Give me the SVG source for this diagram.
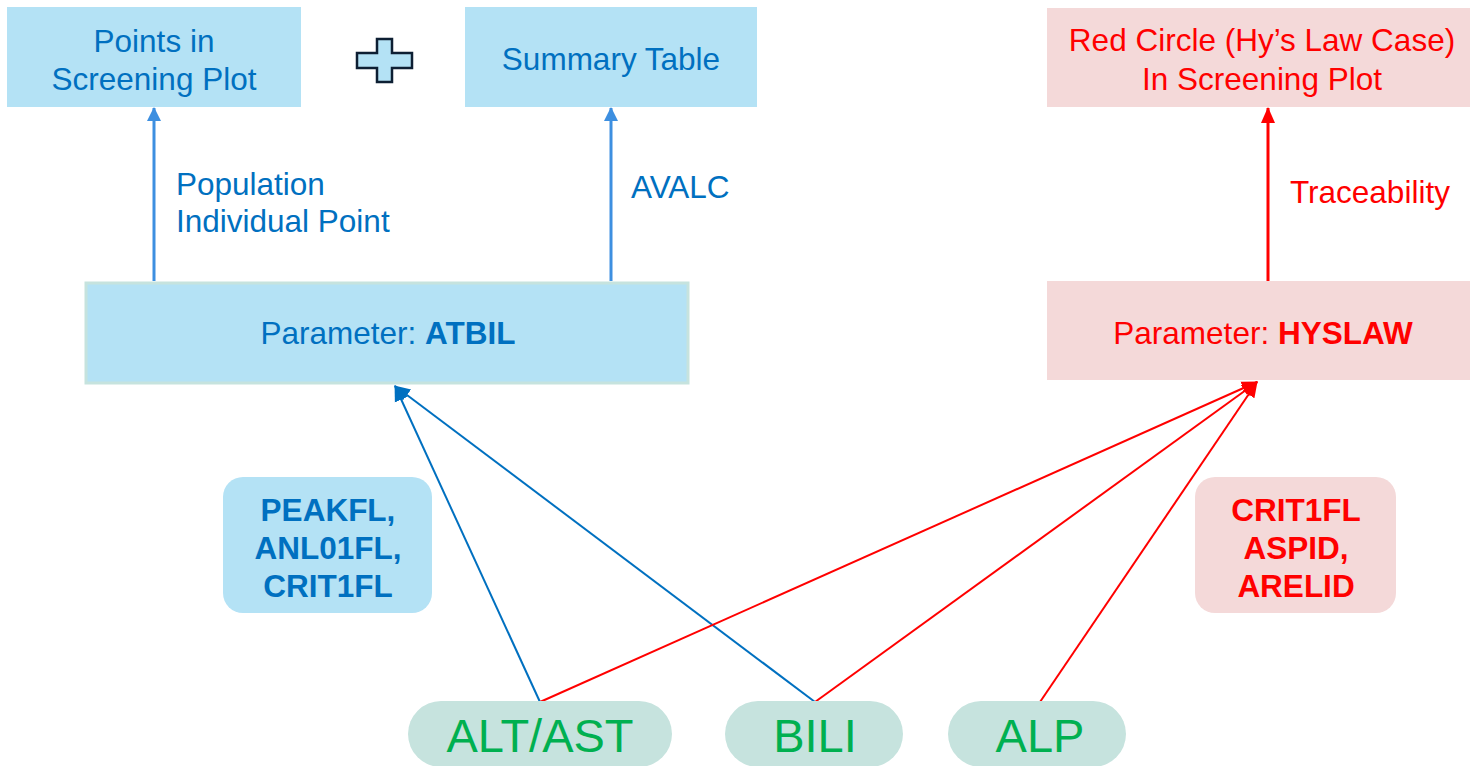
<svg xmlns="http://www.w3.org/2000/svg" width="1470" height="766" viewBox="0 0 1470 766">
<style>
.t{font-family:"Liberation Sans",Arial,sans-serif;font-size:31.5px;text-anchor:middle}
.lb{font-family:"Liberation Sans",Arial,sans-serif;font-size:31.5px}
.b{fill:#0070c0}.r{fill:#ff0000}.g{fill:#00b050}
.bold{font-weight:bold}
.bfill{fill:#b4e2f5}.rfill{fill:#f4d9d9}.pill{fill:#c6e3de}
.big{font-family:"Liberation Sans",Arial,sans-serif;font-size:47px;text-anchor:middle;fill:#00b050}
</style>
<defs>
<marker id="aL" markerWidth="14" markerHeight="14" refX="13" refY="7" orient="auto" markerUnits="userSpaceOnUse" viewBox="0 0 14 14"><path d="M0,0 L14,7 L0,14 z" fill="#3d8fe0"/></marker>
<marker id="aB" markerWidth="16" markerHeight="16" refX="15" refY="8" orient="auto" markerUnits="userSpaceOnUse" viewBox="0 0 16 16"><path d="M0,1 L16,8 L0,15 z" fill="#0070c0"/></marker>
<marker id="aR" markerWidth="16" markerHeight="16" refX="15" refY="8" orient="auto" markerUnits="userSpaceOnUse" viewBox="0 0 16 16"><path d="M0,1 L16,8 L0,15 z" fill="#ff0000"/></marker>
</defs>
<rect width="1470" height="766" fill="#ffffff"/>

<g id="connectors">
<line x1="154" y1="281" x2="154" y2="108" stroke="#3d8fe0" stroke-width="3" marker-end="url(#aL)"/>
<line x1="611" y1="281" x2="611" y2="108" stroke="#3d8fe0" stroke-width="3" marker-end="url(#aL)"/>
<line x1="1268" y1="281" x2="1268" y2="108" stroke="#ff0000" stroke-width="3" marker-end="url(#aR)"/>
<line x1="540" y1="702" x2="395" y2="386" stroke="#0070c0" stroke-width="2" marker-end="url(#aB)"/>
<line x1="815" y1="702" x2="395" y2="386" stroke="#0070c0" stroke-width="2" marker-end="url(#aB)"/>
<line x1="540" y1="702" x2="1257" y2="382" stroke="#ff0000" stroke-width="2" marker-end="url(#aR)"/>
<line x1="815" y1="702" x2="1257" y2="382" stroke="#ff0000" stroke-width="2" marker-end="url(#aR)"/>
<line x1="1040" y1="702" x2="1257" y2="382" stroke="#ff0000" stroke-width="2" marker-end="url(#aR)"/>
<text class="lb b" x="176" y="195">Population</text>
<text class="lb b" x="176" y="232">Individual Point</text>
<text class="lb b" x="631" y="198">AVALC</text>
<text class="lb r" x="1290" y="203">Traceability</text>
</g>

<g id="points">
<rect class="bfill" x="7" y="7" width="294" height="100"/>
<text class="t b" x="154" y="52">Points in</text>
<text class="t b" x="154" y="90">Screening Plot</text>
</g>

<g id="plus">
<path d="M377,39 H392 V53 H412 V68 H392 V82 H377 V68 H357 V53 H377 Z" fill="#b4e2f5" stroke="#0d1f33" stroke-width="2.5"/>
</g>

<g id="summary">
<rect class="bfill" x="465" y="7" width="292" height="100"/>
<text class="t b" x="611" y="70">Summary Table</text>
</g>

<g id="redcircle">
<rect class="rfill" x="1047" y="8" width="423" height="99"/>
<text class="t r" x="1262" y="51">Red Circle (Hy’s Law Case)</text>
<text class="t r" x="1262" y="90">In Screening Plot</text>
</g>

<g id="atbil">
<rect class="bfill" x="86" y="283" width="602" height="100" stroke="#c6e3de" stroke-width="3"/>
<text class="t b" x="388" y="344">Parameter: <tspan class="bold">ATBIL</tspan></text>
</g>

<g id="hyslaw">
<rect class="rfill" x="1047" y="281" width="423" height="99"/>
<text class="t r" x="1263" y="344">Parameter: <tspan class="bold">HYSLAW</tspan></text>
</g>

<g id="flagsBlue">
<rect class="bfill" x="223" y="477" width="209" height="136" rx="20"/>
<text class="t b bold" x="328" y="521">PEAKFL,</text>
<text class="t b bold" x="328" y="559">ANL01FL,</text>
<text class="t b bold" x="328" y="597">CRIT1FL</text>
</g>

<g id="flagsRed">
<rect class="rfill" x="1195" y="477" width="201" height="136" rx="20"/>
<text class="t r bold" x="1296" y="521">CRIT1FL</text>
<text class="t r bold" x="1296" y="559">ASPID,</text>
<text class="t r bold" x="1296" y="597">ARELID</text>
</g>

<g id="altast">
<rect class="pill" x="408" y="701" width="264" height="66" rx="33"/>
<text class="big" x="540" y="752">ALT/AST</text>
</g>
<g id="bili">
<rect class="pill" x="725" y="701" width="178" height="66" rx="33"/>
<text class="big" x="815" y="752">BILI</text>
</g>
<g id="alp">
<rect class="pill" x="948" y="701" width="178" height="66" rx="33"/>
<text class="big" x="1040" y="752">ALP</text>
</g>
</svg>
